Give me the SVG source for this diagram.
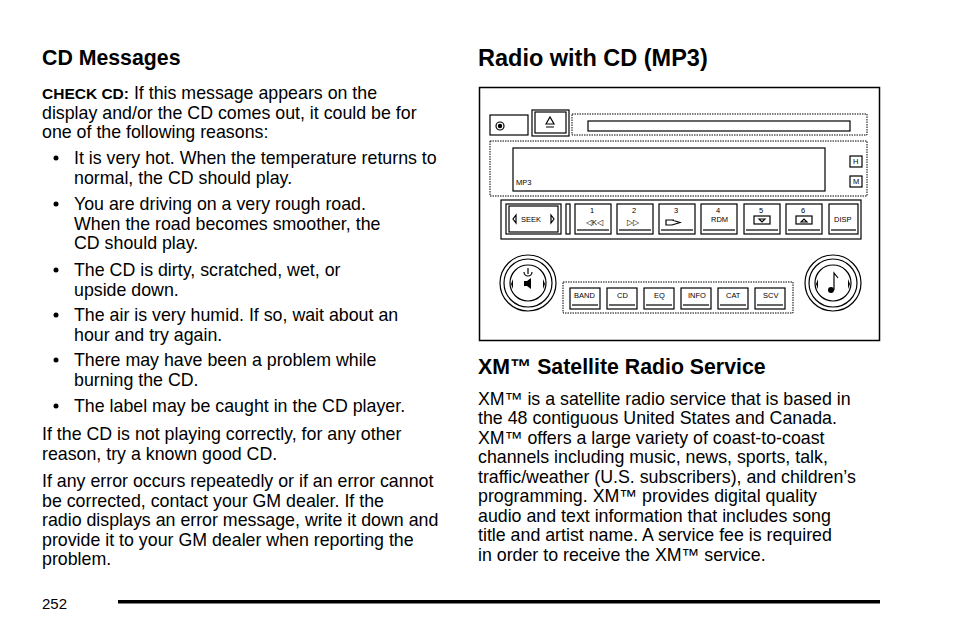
<svg xmlns="http://www.w3.org/2000/svg" width="954" height="636" viewBox="0 0 954 636">
<style>
text{font-family:"Liberation Sans",Arial,sans-serif;fill:#000}
.b{font-size:17.8px}
.h{font-size:21.3px;font-weight:bold}
.t{font-size:23.5px;font-weight:bold}
.s{fill:none;stroke:#000;stroke-width:1.2}
.p{fill:none;stroke:#000;stroke-width:1;stroke-dasharray:1.5 1}
.k{font-size:7.5px}
.bl{fill:#000}
</style>
<rect width="954" height="636" fill="#fff"/>
<g id="left">
<text class="h" x="42" y="65">CD Messages</text>
<text class="b" x="42" y="99"><tspan font-weight="bold" font-size="15.5">CHECK CD:</tspan>  If this message appears on the</text>
<text class="b" x="42" y="119">display and/or the CD comes out, it could be for</text>
<text class="b" x="42" y="138">one of the following reasons:</text>
<g class="bl"><circle cx="56" cy="158" r="2.5"/><circle cx="56" cy="204" r="2.5"/><circle cx="56" cy="270" r="2.5"/><circle cx="56" cy="315" r="2.5"/><circle cx="56" cy="360" r="2.5"/><circle cx="56" cy="406" r="2.5"/></g>
<text class="b" x="74" y="164">It is very hot. When the temperature returns to</text>
<text class="b" x="74" y="184">normal, the CD should play.</text>
<text class="b" x="74" y="210">You are driving on a very rough road.</text>
<text class="b" x="74" y="230">When the road becomes smoother, the</text>
<text class="b" x="74" y="249">CD should play.</text>
<text class="b" x="74" y="276">The CD is dirty, scratched, wet, or</text>
<text class="b" x="74" y="296">upside down.</text>
<text class="b" x="74" y="321">The air is very humid. If so, wait about an</text>
<text class="b" x="74" y="341">hour and try again.</text>
<text class="b" x="74" y="366">There may have been a problem while</text>
<text class="b" x="74" y="386">burning the CD.</text>
<text class="b" x="74" y="412">The label may be caught in the CD player.</text>
<text class="b" x="42" y="440">If the CD is not playing correctly, for any other</text>
<text class="b" x="42" y="460">reason, try a known good CD.</text>
<text class="b" x="42" y="487">If any error occurs repeatedly or if an error cannot</text>
<text class="b" x="42" y="507">be corrected, contact your GM dealer. If the</text>
<text class="b" x="42" y="526">radio displays an error message, write it down and</text>
<text class="b" x="42" y="546">provide it to your GM dealer when reporting the</text>
<text class="b" x="42" y="565">problem.</text>
</g>
<g id="right">
<text class="t" x="478" y="66">Radio with CD (MP3)</text>
<text class="h" x="478" y="374">XM™ Satellite Radio Service</text>
<text class="b" x="478" y="405">XM™ is a satellite radio service that is based in</text>
<text class="b" x="478" y="424">the 48 contiguous United States and Canada.</text>
<text class="b" x="478" y="444">XM™ offers a large variety of coast-to-coast</text>
<text class="b" x="478" y="463">channels including music, news, sports, talk,</text>
<text class="b" x="478" y="483">traffic/weather (U.S. subscribers), and children’s</text>
<text class="b" x="478" y="502">programming. XM™ provides digital quality</text>
<text class="b" x="478" y="522">audio and text information that includes song</text>
<text class="b" x="478" y="541">title and artist name. A service fee is required</text>
<text class="b" x="478" y="561">in order to receive the XM™ service.</text>
</g>
<g id="radio">
<rect x="479.5" y="87.5" width="400" height="253" fill="none" stroke="#000" stroke-width="1.5"/>
<rect class="s" x="490" y="115" width="38" height="20"/>
<circle cx="500" cy="126" r="4" fill="none" stroke="#000" stroke-width="1.2"/><circle cx="500" cy="126" r="2.2"/>
<rect class="s" x="532" y="110" width="37" height="26"/><rect class="s" x="535" y="112" width="31" height="21"/>
<path d="M546 124 L550 117 L554 124 Z M546 127 H554" class="s" stroke-width="0.8"/>
<rect class="p" x="572" y="114" width="295" height="21"/>
<rect class="s" x="588" y="121" width="262" height="10"/>
<rect class="p" x="490" y="141" width="377" height="55"/>
<rect class="s" x="513" y="148" width="312" height="43"/>
<text class="k" x="516" y="185">MP3</text>
<rect class="s" x="850" y="156" width="12" height="11"/><text class="k" x="853" y="164">H</text>
<rect class="s" x="850" y="176" width="12" height="11"/><text class="k" x="853" y="184">M</text>
<rect class="s" x="501" y="200" width="360" height="39"/>
<g id="seek"><rect class="s" x="506" y="204" width="55" height="30"/><rect class="s" x="509" y="206" width="49" height="26"/>
<path d="M516 215 L513 219 L516 223 Z M551 215 L554 219 L551 223 Z" class="s"/><text class="k" x="521" y="222">SEEK</text></g>
<rect class="s" x="566" y="204" width="4" height="30"/>
<g class="btn">
<rect class="s" x="575" y="204" width="36" height="30"/><path class="s" d="M577 230 H609"/><text class="k" x="590" y="213">1</text><text class="k" x="586" y="225">◁K◁</text>
<rect class="s" x="617" y="204" width="36" height="30"/><path class="s" d="M619 230 H651"/><text class="k" x="632" y="213">2</text><text class="k" x="627" y="225">▷▷</text>
<rect class="s" x="659" y="204" width="36" height="30"/><path class="s" d="M661 230 H693"/><text class="k" x="674" y="213">3</text><path d="M674 220 H666 V225 H672 L680 222.5 L672 220" class="s"/>
<rect class="s" x="701" y="204" width="36" height="30"/><path class="s" d="M703 230 H735"/><text class="k" x="716" y="213">4</text><text class="k" x="711" y="222">RDM</text>
<rect class="s" x="744" y="204" width="36" height="30"/><path class="s" d="M746 230 H778"/><text class="k" x="759" y="213">5</text><rect class="s" x="754" y="216" width="16" height="8"/><path d="M759 219 H765 L762 222 Z" class="s" stroke-width="0.7"/>
<rect class="s" x="786" y="204" width="36" height="30"/><path class="s" d="M788 230 H820"/><text class="k" x="801" y="213">6</text><rect class="s" x="796" y="216" width="16" height="8"/><path d="M801 222 H807 L804 219 Z" class="s" stroke-width="0.7"/>
<rect class="s" x="829" y="204" width="29" height="30"/><path class="s" d="M831 230 H856"/><text class="k" x="834" y="222">DISP</text>
</g>
<g id="knobL"><circle cx="528" cy="283" r="28" class="s"/><circle cx="528" cy="283" r="24" class="s"/><circle cx="528" cy="283" r="18" class="s"/>
<path d="M524 272 A4 4 0 1 0 532 272 M528 268 V274" class="s"/><path d="M524 281 H527 L531 278 V289 L527 286 H524 Z"/><path d="M513 279 L511 284 L513 289 Z M543 279 L545 284 L543 289 Z"/></g>
<g id="knobR"><circle cx="833" cy="283" r="28" class="s"/><circle cx="833" cy="283" r="24" class="s"/><circle cx="833" cy="283" r="18" class="s"/>
<circle cx="831" cy="290" r="3"/><path d="M834 290 V273 L838 278" class="s"/><path d="M818 279 L816 284 L818 289 Z M848 279 L850 284 L848 289 Z"/></g>
<rect class="p" x="563" y="282" width="230" height="31"/>
<g>
<rect class="s" x="570" y="288" width="30" height="21"/><path class="s" d="M572 305 H598"/><text class="k" x="574" y="298">BAND</text>
<rect class="s" x="607" y="288" width="30" height="21"/><path class="s" d="M609 305 H635"/><text class="k" x="617" y="298">CD</text>
<rect class="s" x="644" y="288" width="30" height="21"/><path class="s" d="M646 305 H672"/><text class="k" x="654" y="298">EQ</text>
<rect class="s" x="681" y="288" width="30" height="21"/><path class="s" d="M683 305 H709"/><text class="k" x="688" y="298">INFO</text>
<rect class="s" x="718" y="288" width="30" height="21"/><path class="s" d="M720 305 H746"/><text class="k" x="726" y="298">CAT</text>
<rect class="s" x="755" y="288" width="30" height="21"/><path class="s" d="M757 305 H783"/><text class="k" x="763" y="298">SCV</text>
</g>
</g>
<g id="footer">
<text x="42" y="609" font-size="15">252</text>
<rect x="118" y="600" width="762" height="3.5"/>
</g>
</svg>
